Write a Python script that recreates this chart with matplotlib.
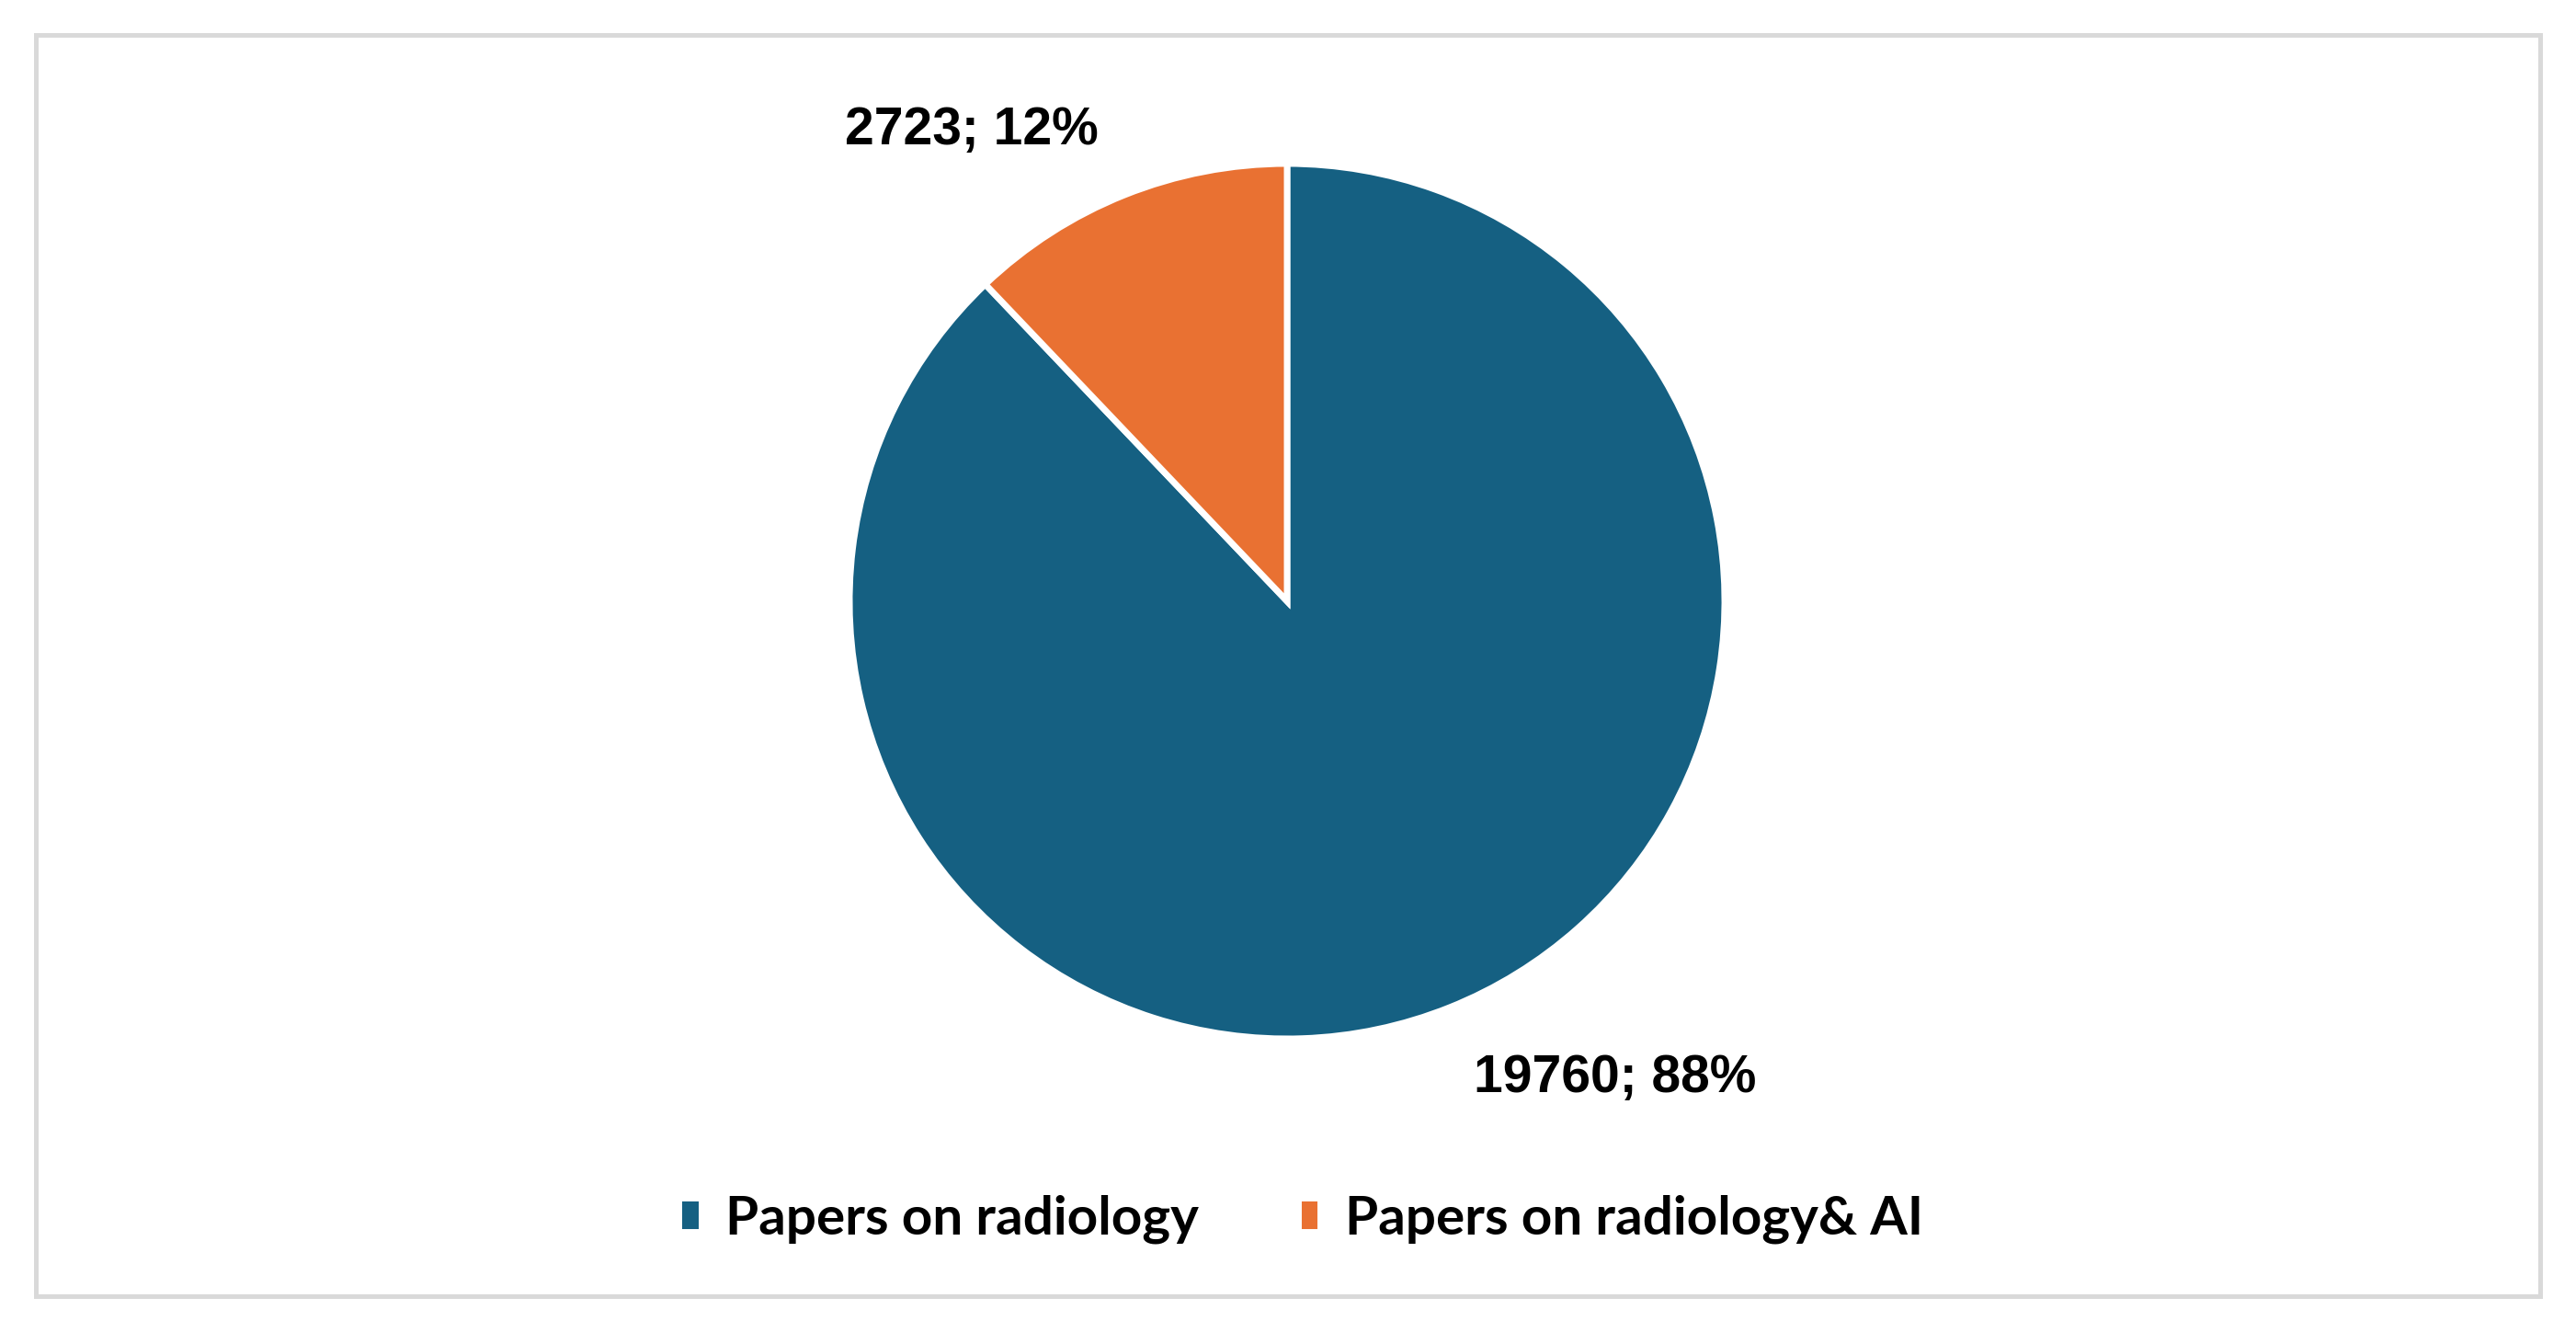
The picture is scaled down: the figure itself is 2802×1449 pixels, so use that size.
import numpy as np
import matplotlib.pyplot as plt
from matplotlib.patches import Rectangle

# Data
categories = ["Papers on radiology", "Papers on radiology& AI"]
values = [19760, 2723]
percents = ["88%", "12%"]
colors = ["#156082", "#E97132"]

W, H = 2802, 1449
fig = plt.figure(figsize=(W / 100, H / 100), dpi=100)

# Pie axes (center ~ (1400, 654) px, radius ~ 476 px)
cx, cy, r = 1400, 654, 476
ax = fig.add_axes([(cx - r) / W, (H - cy - r) / H, 2 * r / W, 2 * r / H])
wedges, _ = ax.pie(values, colors=colors, startangle=90, counterclock=False,
                   radius=1.0, wedgeprops=dict(edgecolor="white", linewidth=5))
ax.set_xlim(-1, 1)
ax.set_ylim(-1, 1)
ax.set_aspect("equal")
ax.axis("off")

# Data labels
label_pos = [(0.75, -1.09), (-0.72, 1.075)]
for v, p, (lx, ly) in zip(values, percents, label_pos):
    ax.text(lx, ly, f"{v}; {p}", ha="center", va="center",
            fontsize=41, fontweight="bold", family="Liberation Sans",
            color="black", clip_on=False)

# Legend
leg = fig.legend(wedges, categories, loc="center", ncol=2,
                 bbox_to_anchor=(0.505, 1 - 1326 / H), frameon=False,
                 prop=dict(family="Lato", weight="bold", size=42),
                 handlelength=0.42, handleheight=0.6, handletextpad=0.45,
                 columnspacing=1.85)

# Outer frame
fig.patches.append(Rectangle((39 / W, 39 / H), (2763 - 39) / W, (1411 - 39) / H,
                             transform=fig.transFigure, fill=False,
                             edgecolor="#d9d9d9", linewidth=3.6))

fig.savefig("out.png", dpi=100)
